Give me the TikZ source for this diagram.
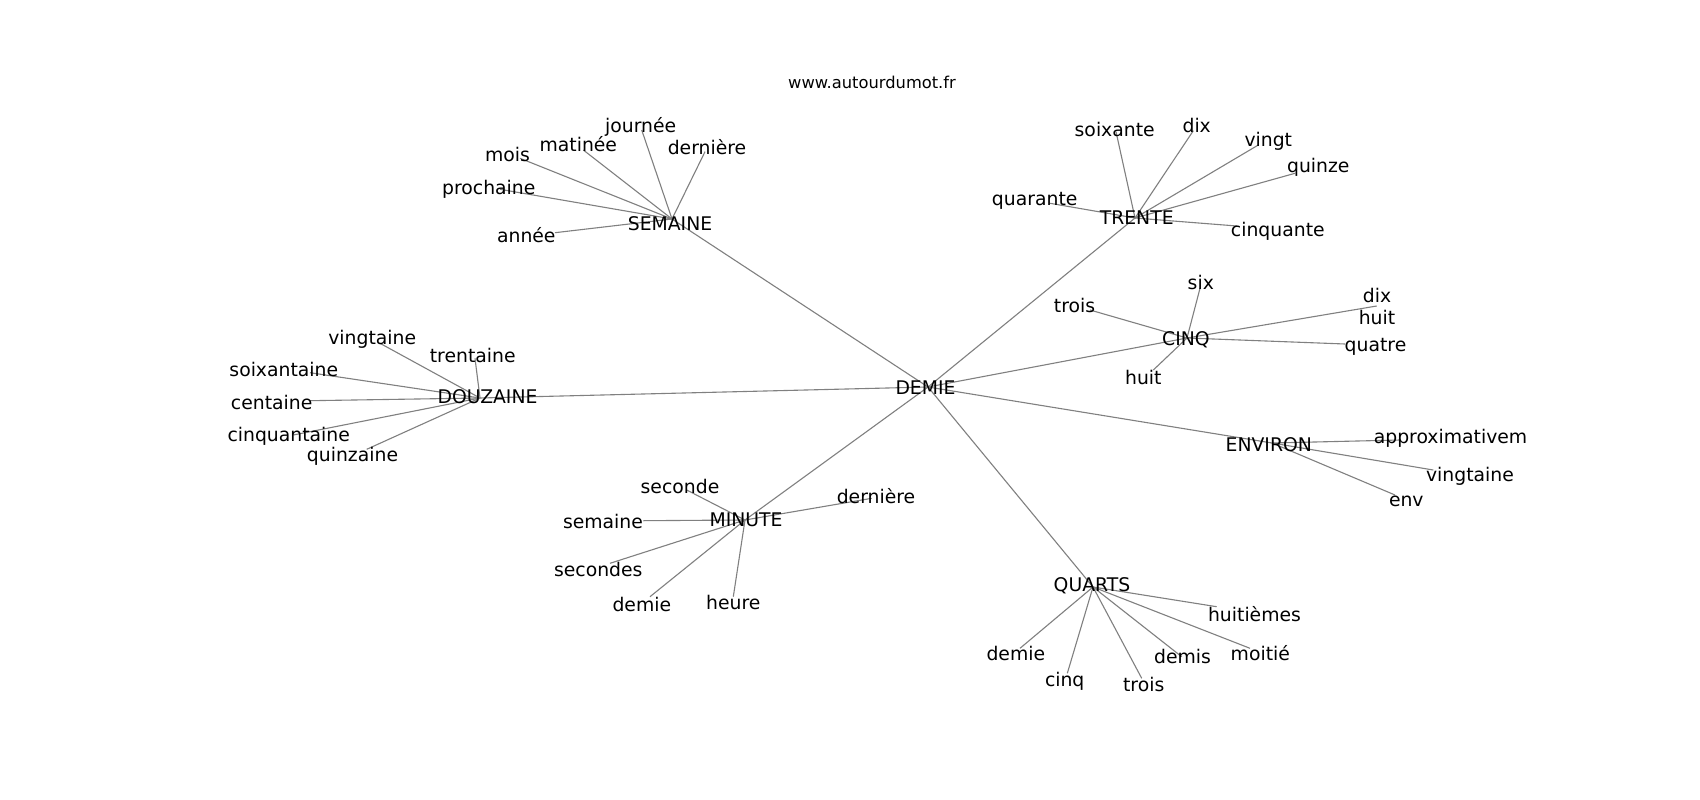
\documentclass[tikz,border=0pt]{standalone}
\usepackage{fontspec}
\setmainfont{DejaVu Sans}
\begin{document}
\begin{tikzpicture}[x=1pt,y=-1pt,
  w/.style={inner sep=0pt, font=\fontsize{18.8}{22}\selectfont, text=black, align=center, yshift=-1.5pt},
  ttl/.style={inner sep=0pt, font=\fontsize{16.3}{19}\selectfont, text=black},
  e/.style={draw=gray, line width=1.1pt}]
\useasboundingbox (0,0) rectangle (1700,800);
\fill[white] (0,0) rectangle (1700,800);
% ---- edge points ----
\coordinate (demie-p) at (928,387);
\coordinate (semaine-p) at (672,219);
\coordinate (trente-p) at (1135,218);
\coordinate (cinq-p) at (1187,338);
\coordinate (environ-p) at (1272,443);
\coordinate (quarts-p) at (1093,587);
\coordinate (minute-p) at (745,520);
\coordinate (douzaine-p) at (480,398);
% semaine leaves
\coordinate (journee-p) at (641.7,130);
\coordinate (matinee-p) at (583.3,150);
\coordinate (derniereS-p) at (705,151.7);
\coordinate (mois-p) at (520,158.3);
\coordinate (prochaine-p) at (500,189.3);
\coordinate (annee-p) at (555,232.7);
% trente leaves
\coordinate (soixante-p) at (1116,131.7);
\coordinate (dixT-p) at (1193.3,130.7);
\coordinate (vingt-p) at (1258.3,145);
\coordinate (quinze-p) at (1295,173.3);
\coordinate (quarante-p) at (1050,203.3);
\coordinate (cinquante-p) at (1236.7,226);
% cinq leaves
\coordinate (six-p) at (1200,288.3);
\coordinate (troisC-p) at (1090,310);
\coordinate (dixhuit-p) at (1376.7,306);
\coordinate (quatre-p) at (1345,344);
\coordinate (huitC-p) at (1153.3,370);
% douzaine leaves
\coordinate (vingtaineD-p) at (380,343.3);
\coordinate (trentaine-p) at (475,358.3);
\coordinate (soixantaine-p) at (310,372.7);
\coordinate (centaine-p) at (310,400.7);
\coordinate (cinquantaine-p) at (293.3,435);
\coordinate (quinzaine-p) at (366.7,449.3);
% minute leaves
\coordinate (seconde-p) at (686.7,490);
\coordinate (semaineM-p) at (643.3,520.7);
\coordinate (derniereM-p) at (871.7,498.3);
\coordinate (secondes-p) at (610,563.3);
\coordinate (demieM-p) at (650,596.7);
\coordinate (heure-p) at (733.3,596.7);
% quarts leaves
\coordinate (huitiemes-p) at (1216.7,606.7);
\coordinate (moitie-p) at (1250,648.3);
\coordinate (demis-p) at (1181.7,656.7);
\coordinate (troisQ-p) at (1141.7,678.3);
\coordinate (cinqQ-p) at (1067.3,673.3);
\coordinate (demieQ-p) at (1020,648.3);
% environ leaves
\coordinate (approx-p) at (1400,440);
\coordinate (vingtaineE-p) at (1433.3,470);
\coordinate (env-p) at (1395,495);
% ---- edges ----
\foreach \h in {semaine,trente,cinq,environ,quarts,minute,douzaine}
  \draw[e] (demie-p) -- (\h-p);
\foreach \l in {journee,matinee,derniereS,mois,prochaine,annee}
  \draw[e] (semaine-p) -- (\l-p);
\foreach \l in {soixante,dixT,vingt,quinze,quarante,cinquante}
  \draw[e] (trente-p) -- (\l-p);
\foreach \l in {six,troisC,dixhuit,quatre,huitC}
  \draw[e] (cinq-p) -- (\l-p);
\foreach \l in {vingtaineD,trentaine,soixantaine,centaine,cinquantaine,quinzaine}
  \draw[e] (douzaine-p) -- (\l-p);
\foreach \l in {seconde,semaineM,derniereM,secondes,demieM,heure}
  \draw[e] (minute-p) -- (\l-p);
\foreach \l in {huitiemes,moitie,demis,troisQ,cinqQ,demieQ}
  \draw[e] (quarts-p) -- (\l-p);
\foreach \l in {approx,vingtaineE,env}
  \draw[e] (environ-p) -- (\l-p);
% ---- labels ----
\node[ttl] (title) at (872,82) {www.autourdumot.fr};
\node[w] (demie) at (925.5,385.8) {DEMIE};
\node[w] (semaine) at (670,221.7) {SEMAINE};
\node[w] (trente) at (1136.7,216.5) {TRENTE};
\node[w] (cinq) at (1186,338.5) {CINQ};
\node[w] (environ) at (1268.8,443.3) {ENVIRON};
\node[w] (quarts) at (1092,584.5) {QUARTS};
\node[w] (minute) at (746,517.8) {MINUTE};
\node[w] (douzaine) at (487.5,395.3) {DOUZAINE};
\node[w] (journee) at (640.7,125) {journée};
\node[w] (matinee) at (578.3,142.7) {matinée};
\node[w] (derniereS) at (707,146) {dernière};
\node[w] (mois) at (507.5,152.5) {mois};
\node[w] (prochaine) at (488.8,187.7) {prochaine};
\node[w] (annee) at (526.3,233.3) {année};
\node[w] (soixante) at (1114.7,127.5) {soixante};
\node[w] (dixT) at (1196.7,124) {dix};
\node[w] (vingt) at (1268.3,139.5) {vingt};
\node[w] (quinze) at (1318.3,166) {quinze};
\node[w] (quarante) at (1034.7,199) {quarante};
\node[w] (cinquante) at (1277.8,230) {cinquante};
\node[w] (six) at (1200.8,281) {six};
\node[w] (troisC) at (1074.5,304) {trois};
\node[w] (dixhuit) at (1377,305) {dix\\huit};
\node[w] (quatre) at (1375.5,345.7) {quatre};
\node[w] (huitC) at (1143.3,376) {huit};
\node[w] (vingtaineD) at (372.2,338.3) {vingtaine};
\node[w] (trentaine) at (472.7,353.8) {trentaine};
\node[w] (soixantaine) at (283.8,368) {soixantaine};
\node[w] (centaine) at (271.7,400.5) {centaine};
\node[w] (cinquantaine) at (288.7,434.7) {cinquantaine};
\node[w] (quinzaine) at (352.5,455.3) {quinzaine};
\node[w] (seconde) at (680,485) {seconde};
\node[w] (semaineM) at (603,520) {semaine};
\node[w] (derniereM) at (876,495) {dernière};
\node[w] (secondes) at (598.3,567.5) {secondes};
\node[w] (demieM) at (641.8,602.5) {demie};
\node[w] (heure) at (733.3,600.8) {heure};
\node[w] (huitiemes) at (1254.5,612.5) {huitièmes};
\node[w] (moitie) at (1260.3,651.7) {moitié};
\node[w] (demis) at (1182.5,655.3) {demis};
\node[w] (troisQ) at (1143.7,683.3) {trois};
\node[w] (cinqQ) at (1064.7,680) {cinq};
\node[w] (demieQ) at (1015.8,652) {demie};
\node[w] (approx) at (1450.5,436.7) {approximativem};
\node[w] (vingtaineE) at (1470,475) {vingtaine};
\node[w] (env) at (1406.3,500) {env};
\end{tikzpicture}
\end{document}
